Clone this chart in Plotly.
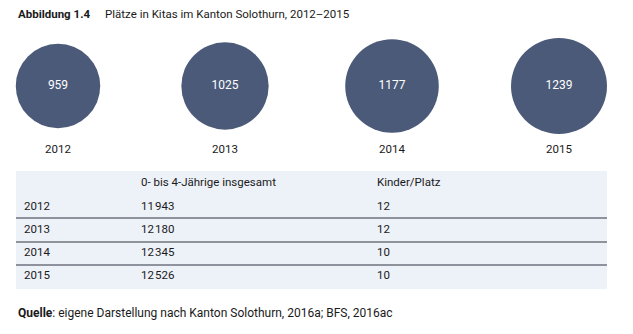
import plotly.graph_objects as go
import math

# ---- data ----
years = [2012, 2013, 2014, 2015]
places = [959, 1025, 1177, 1239]
children_0_4 = [11943, 12180, 12345, 12526]
kids_per_place = [12, 12, 10, 10]
col_headers = ["", "0- bis 4-Jährige insgesamt", "Kinder/Platz"]
title_label = "Abbildung 1.4"
title_text = "Plätze in Kitas im Kanton Solothurn, 2012–2015"
source_label = "Quelle"
source_text = ": eigene Darstellung nach Kanton Solothurn, 2016a; BFS, 2016ac"

# ---- style ----
W, H = 633, 334
FONT = "Roboto, 'Noto Sans', sans-serif"
CIRCLE = "#4b5a78"
TABLE_BG = "#edf1f8"
TXT = "#1a1a1a"


def fmt_thousands(n):
    s = f"{n:,}"
    return s.replace(",", "\u200a")


# circle diameters proportional to sqrt(value) (area encoding)
max_d = 96
diam = [max_d * math.sqrt(v / max(places)) for v in places]

# x axis: years, spaced so 2012 -> 58px and 2015 -> 559px
px_per_year = 167
x0 = years[0] - 58 / px_per_year
x1 = x0 + W / px_per_year

fig = go.Figure()
fig.add_trace(go.Scatter(
    x=years, y=[86] * len(years), mode="markers+text",
    text=[str(p) for p in places], textposition="middle center",
    textfont=dict(color="white", size=12, family=FONT),
    marker=dict(size=diam, sizemode="diameter", color=CIRCLE, line=dict(width=0), opacity=1),
    hoverinfo="skip", showlegend=False, cliponaxis=False,
))

annotations = []
for yr in years:
    annotations.append(dict(x=yr, y=149, xref="x", yref="y", text=str(yr), showarrow=False,
                            font=dict(size=11.5, color=TXT, family=FONT), xanchor="center", yanchor="middle"))

shapes = []
# table background
tx0, tx1 = 16, 607
shapes.append(dict(type="rect", xref="paper", yref="y", x0=tx0 / W, x1=tx1 / W, y0=171, y1=289,
                   fillcolor=TABLE_BG, line=dict(width=0), layer="below"))

row_y = [182, 206, 229, 252, 275]
col_x = [22, 139, 375]
rows = [col_headers] + [[str(y), fmt_thousands(c), str(k)] for y, c, k in zip(years, children_0_4, kids_per_place)]
for ri, row in enumerate(rows):
    for ci, cell in enumerate(row):
        if not cell:
            continue
        annotations.append(dict(x=col_x[ci] / W, y=row_y[ri], xref="paper", yref="y", text=cell,
                                showarrow=False, xanchor="left", yanchor="middle",
                                font=dict(size=11.5, color=TXT, family=FONT)))

# separators between data rows
sep_y = [218, 242, 265]
sep_col = ["#2f3543", "#8e939c", "#2f3543"]
sep_w = [1.2, 2.2, 1.2]
for yy, c, w in zip(sep_y, sep_col, sep_w):
    shapes.append(dict(type="line", xref="paper", yref="y", x0=tx0 / W, x1=tx1 / W, y0=yy, y1=yy,
                       line=dict(color=c, width=w)))

# title
annotations.append(dict(x=16 / W, y=14, xref="paper", yref="y", text=f"<b>{title_label}</b>",
                        showarrow=False, xanchor="left", yanchor="middle",
                        font=dict(size=11.5, color=TXT, family=FONT)))
annotations.append(dict(x=103 / W, y=14, xref="paper", yref="y", text=title_text,
                        showarrow=False, xanchor="left", yanchor="middle",
                        font=dict(size=11.5, color=TXT, family=FONT)))
# source
annotations.append(dict(x=16 / W, y=313, xref="paper", yref="y", text=f"<b>{source_label}</b>{source_text}",
                        showarrow=False, xanchor="left", yanchor="middle",
                        font=dict(size=12, color=TXT, family=FONT)))

fig.update_layout(
    width=W, height=H, margin=dict(l=0, r=0, t=0, b=0),
    paper_bgcolor="white", plot_bgcolor="white",
    xaxis=dict(range=[x0, x1], visible=False, fixedrange=True),
    yaxis=dict(range=[H, 0], visible=False, fixedrange=True),
    annotations=annotations, shapes=shapes, showlegend=False,
)

fig.write_html("out.html", config={"displayModeBar": False})
